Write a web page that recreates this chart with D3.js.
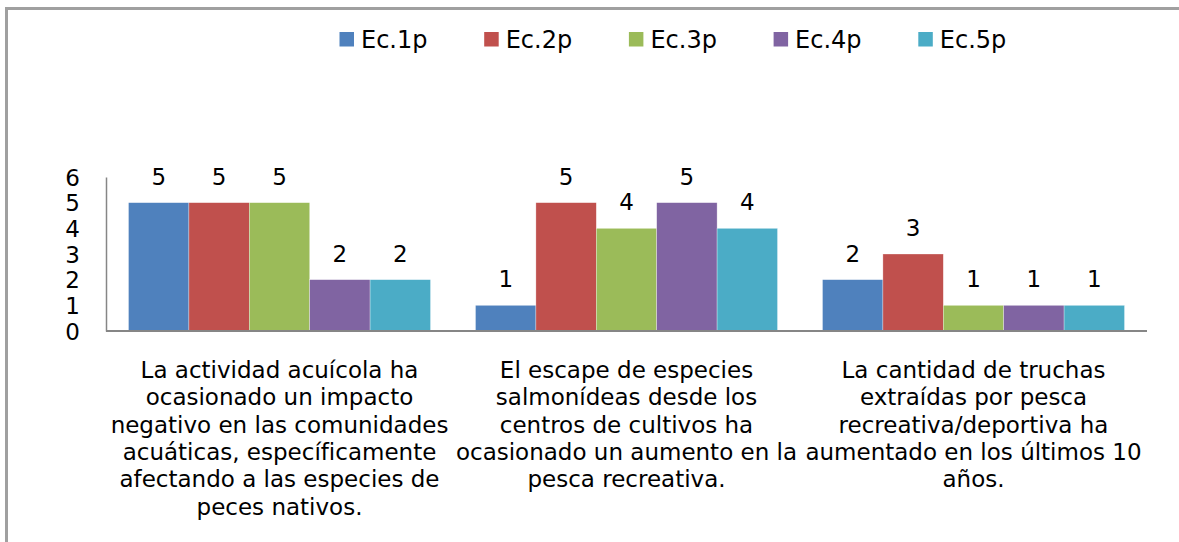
<!DOCTYPE html>
<html lang="es">
<head>
<meta charset="utf-8">
<title>Ec.1p - Ec.5p</title>
<script src="https://d3js.org/d3.v7.min.js"></script>
<style>
  body { margin: 0; background: #fff; }
  text { font-family: "DejaVu Sans", Verdana, sans-serif; fill: #000; }
</style>
</head>
<body>
<script>
// data
const series = ["Ec.1p", "Ec.2p", "Ec.3p", "Ec.4p", "Ec.5p"];
const colors = ["#4F81BD", "#C0504D", "#9BBB59", "#8064A2", "#4BACC6"];
const categories = ["c1", "c2", "c3"];
const catLines = [
  ["La actividad acuícola ha", "ocasionado un impacto", "negativo en las comunidades",
   "acuáticas, específicamente", "afectando a las especies de", "peces nativos."],
  ["El escape de especies", "salmonídeas desde los", "centros de cultivos ha",
   "ocasionado un aumento en la", "pesca recreativa."],
  ["La cantidad de truchas", "extraídas por pesca", "recreativa/deportiva ha",
   "aumentado en los últimos 10", "años."]
];
const values = [
  [5, 5, 5, 2, 2],
  [1, 5, 4, 5, 4],
  [2, 3, 1, 1, 1]
];
const yTicks = [0, 1, 2, 3, 4, 5, 6];

const W = 1179, H = 542;
const plot = {left: 106, right: 1147, top: 177, bottom: 331};

const svg = d3.select("body").append("svg")
  .attr("width", W).attr("height", H);

// chart frame (right and bottom edges fall outside the picture)
svg.append("rect")
  .attr("x", 6.5).attr("y", 8.5)
  .attr("width", 1250).attr("height", 650)
  .attr("fill", "none").attr("stroke", "#a0a0a0").attr("stroke-width", 3);

// scales
const x0 = d3.scaleBand().domain(categories).range([plot.left, plot.right]);
const x1 = d3.scaleBand().domain(series)
  .range([22.5, x0.bandwidth() - 22.5]);
const y = d3.scaleLinear().domain([0, 6]).range([plot.bottom, plot.top]);

// bars
const groups = svg.selectAll("g.cat")
  .data(categories)
  .enter().append("g")
  .attr("class", "cat")
  .attr("transform", d => "translate(" + x0(d) + ",0)");

groups.selectAll("rect")
  .data((d, i) => values[i].map((v, j) => ({s: series[j], v: v, c: colors[j]})))
  .enter().append("rect")
  .attr("x", d => x1(d.s))
  .attr("y", d => y(d.v))
  .attr("width", x1.bandwidth())
  .attr("height", d => y(0) - y(d.v))
  .attr("fill", d => d.c)
  .attr("stroke", "#ffffff").attr("stroke-opacity", 0.5).attr("stroke-width", 0.6);

// value labels
groups.selectAll("text.val")
  .data((d, i) => values[i].map((v, j) => ({s: series[j], v: v})))
  .enter().append("text")
  .attr("class", "val")
  .attr("x", d => x1(d.s) + x1.bandwidth() / 2)
  .attr("y", d => y(d.v) - 18)
  .attr("text-anchor", "middle")
  .attr("font-size", "23px")
  .text(d => d.v);

// y axis
const yAxis = svg.append("g")
  .attr("transform", "translate(" + plot.left + ",0)")
  .call(d3.axisLeft(y).tickValues(yTicks).tickSize(0).tickPadding(26).tickFormat(d3.format("d")));
yAxis.select(".domain").attr("stroke", "#868686").attr("stroke-width", 1.5);
yAxis.selectAll(".tick text")
  .attr("font-size", "23px")
  .attr("font-family", "DejaVu Sans, Verdana, sans-serif")
  .attr("fill", "#000")
  .attr("dy", "0.36em");

// x baseline
svg.append("line")
  .attr("x1", plot.left).attr("x2", plot.right)
  .attr("y1", y(0)).attr("y2", y(0))
  .attr("stroke", "#868686").attr("stroke-width", 2);

// category labels
categories.forEach((c, i) => {
  const t = svg.append("text")
    .attr("text-anchor", "middle")
    .attr("font-size", "23px");
  catLines[i].forEach((line, k) => {
    t.append("tspan")
      .attr("x", x0(c) + x0.bandwidth() / 2)
      .attr("y", 378 + k * 27.3)
      .text(line);
  });
});

// legend
const legend = svg.selectAll("g.leg")
  .data(series)
  .enter().append("g")
  .attr("class", "leg")
  .attr("transform", (d, i) => "translate(" + (339.5 + i * 144.7) + ",32)");
legend.append("rect")
  .attr("width", 14.5).attr("height", 14.5)
  .attr("fill", (d, i) => colors[i]);
legend.append("text")
  .attr("x", 21.5).attr("y", 15.5)
  .attr("font-size", "24px")
  .text(d => d);
</script>
</body>
</html>
